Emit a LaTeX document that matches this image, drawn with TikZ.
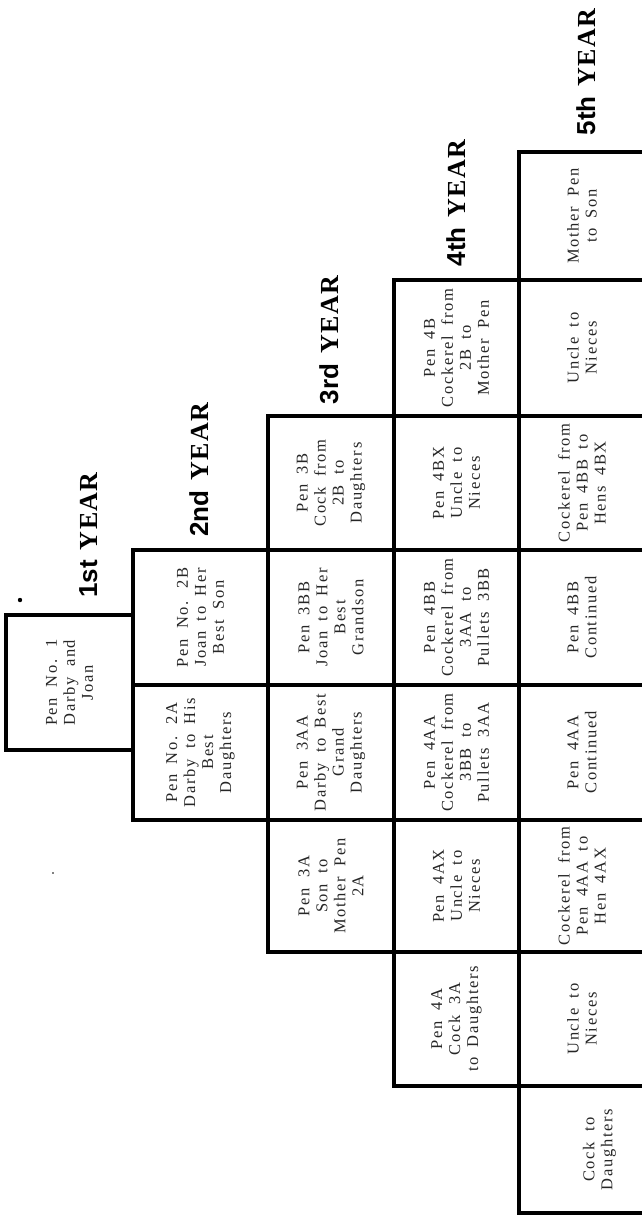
\documentclass[tikz,border=0pt]{standalone}
\usepackage{fontspec}
\setmainfont{Liberation Serif}
\newfontfamily\cellfont[LetterSpace=10,WordSpace=1.8]{Liberation Serif}
\newfontfamily\yearserif[LetterSpace=5]{Liberation Serif}
\newfontfamily\yearsans{Liberation Sans}
\tikzset{
  cell/.style={draw=black, line width=3.1pt, rectangle, rotate=90, inner sep=0pt,
    align=center, font=\cellfont\fontsize{16.5}{18}\selectfont, text=black!85},
  yearlab/.style={rotate=90, inner sep=0pt, anchor=base, font=\fontsize{26}{28}\selectfont\bfseries}
}
\newcommand\mkcell[6]{%
  \pgfmathsetmacro\cellw{#5-#3}\pgfmathsetmacro\cellh{#4-#2}%
  \node[cell, minimum width=\cellw pt, minimum height=\cellh pt] (#1) at ({(#2+#4)/2},{(#3+#5)/2}) {#6};}
\begin{document}
\begin{tikzpicture}[x=1pt,y=-1pt]
\useasboundingbox (0,0) rectangle (642,1216);
\fill[white] (0,0) rectangle (642,1216);
% year 1
\mkcell{p1}{6}{615}{133}{750}{Pen No. 1\\Darby and\\Joan}
% year 2
\mkcell{p2a}{133}{685}{268}{820}{Pen No. 2A\\Darby to His\\Best\\Daughters}
\mkcell{p2b}{133}{550}{268}{685}{Pen No. 2B\\Joan to Her\\Best Son}
% year 3
\mkcell{p3a}{268}{820}{394}{952}{Pen 3A\\Son to\\Mother Pen\\2A}
\mkcell{p3aa}{268}{685}{394}{820}{Pen 3AA\\Darby to Best\\Grand\\Daughters}
\mkcell{p3bb}{268}{550}{394}{685}{Pen 3BB\\Joan to Her\\Best\\Grandson}
\mkcell{p3b}{268}{416}{394}{550}{Pen 3B\\Cock from\\2B to\\Daughters}
% year 4
\mkcell{p4a}{394}{952}{519}{1086}{Pen 4A\\Cock 3A\\to Daughters}
\mkcell{p4ax}{394}{820}{519}{952}{Pen 4AX\\Uncle to\\Nieces}
\mkcell{p4aa}{394}{685}{519}{820}{Pen 4AA\\Cockerel from\\3BB to\\Pullets 3AA}
\mkcell{p4bb}{394}{550}{519}{685}{Pen 4BB\\Cockerel from\\3AA to\\Pullets 3BB}
\mkcell{p4bx}{394}{416}{519}{550}{Pen 4BX\\Uncle to\\Nieces}
\mkcell{p4b}{394}{280}{519}{416}{Pen 4B\\Cockerel from\\2B to\\Mother Pen}
% year 5
\mkcell{q1}{519}{1086}{680}{1213}{Cock to\\Daughters}
\mkcell{q2}{519}{952}{645}{1086}{Uncle to\\Nieces}
\mkcell{q3}{519}{820}{645}{952}{Cockerel from\\Pen 4AA to\\Hen 4AX}
\mkcell{q4}{519}{685}{645}{820}{Pen 4AA\\Continued}
\mkcell{q5}{519}{550}{645}{685}{Pen 4BB\\Continued}
\mkcell{q6}{519}{416}{645}{550}{Cockerel from\\Pen 4BB to\\Hens 4BX}
\mkcell{q7}{519}{280}{645}{416}{Uncle to\\Nieces}
\mkcell{q8}{519}{152}{645}{280}{Mother Pen\\to Son}
% year labels
\node[yearlab] (y1) at (97,535) {\yearsans 1st\hspace{10pt}\yearserif YEAR};
\node[yearlab] (y2) at (208,470) {\yearsans 2nd\hspace{10pt}\yearserif YEAR};
\node[yearlab] (y3) at (338,340) {\yearsans 3rd\hspace{10pt}\yearserif YEAR};
\node[yearlab] (y4) at (465,203) {\yearsans 4th\hspace{10pt}\yearserif YEAR};
\node[yearlab] (y5) at (595,72) {\yearsans 5th\hspace{10pt}\yearserif YEAR};
% specks
\fill (20,600) circle (2.2pt);
\fill (53,873) circle (0.9pt);
\end{tikzpicture}
\end{document}
